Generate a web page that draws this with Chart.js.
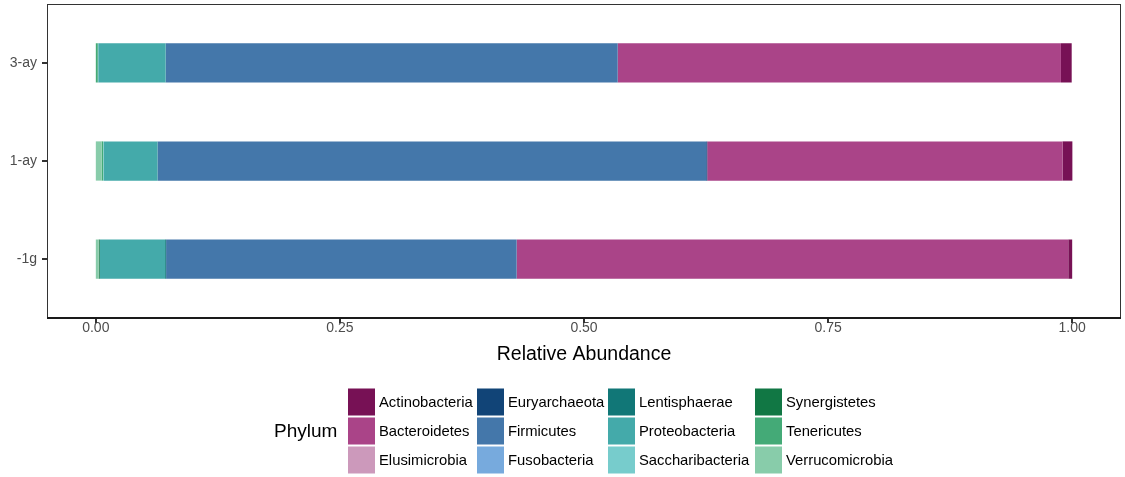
<!DOCTYPE html>
<html>
<head>
<meta charset="utf-8">
<title>Relative Abundance by Phylum</title>
<script src="https://cdn.jsdelivr.net/npm/chart.js@4/dist/chart.umd.min.js"></script>
<style>
  html, body { margin: 0; padding: 0; background: #ffffff; }
  #wrap { width: 1125px; height: 477px; }
</style>
</head>
<body>
<div id="wrap"><canvas id="chart" width="1125" height="477"></canvas></div>
<script>
// Sample groups, top to bottom
const categories = ['3-ay', '1-ay', '-1g'];

// Relative abundance of each phylum per sample group (order follows categories)
const actinobacteria   = [0.011, 0.010, 0.004];
const bacteroidetes    = [0.454, 0.364, 0.565];
const elusimicrobia    = [0.000, 0.000, 0.000];
const euryarchaeota    = [0.000, 0.001, 0.000];
const firmicutes       = [0.463, 0.562, 0.359];
const fusobacteria     = [0.000, 0.000, 0.000];
const lentisphaerae    = [0.000, 0.000, 0.001];
const proteobacteria   = [0.069, 0.055, 0.067];
const saccharibacteria = [0.0005, 0.0007, 0.000];
const synergistetes    = [0.000, 0.000, 0.001];
const tenericutes      = [0.002, 0.0015, 0.000];
const verrucomicrobia  = [0.000, 0.006, 0.003];

// Axis tick values
const xTicks = [0, 0.25, 0.5, 0.75, 1];

// Phyla in legend order, with their fill colours
const phyla = [
  ['Actinobacteria',   actinobacteria,   '#771155'],
  ['Bacteroidetes',    bacteroidetes,    '#AA4488'],
  ['Elusimicrobia',    elusimicrobia,    '#CC99BB'],
  ['Euryarchaeota',    euryarchaeota,    '#114477'],
  ['Firmicutes',       firmicutes,       '#4477AA'],
  ['Fusobacteria',     fusobacteria,     '#77AADD'],
  ['Lentisphaerae',    lentisphaerae,    '#117777'],
  ['Proteobacteria',   proteobacteria,   '#44AAAA'],
  ['Saccharibacteria', saccharibacteria, '#77CCCC'],
  ['Synergistetes',    synergistetes,    '#117744'],
  ['Tenericutes',      tenericutes,      '#44AA77'],
  ['Verrucomicrobia',  verrucomicrobia,  '#88CCAA']
];

// Stack from x = 0 outward: last legend entry sits at the base
const datasets = phyla.slice().reverse().map(([name, values, color]) => ({
  label: name,
  data: values,
  backgroundColor: color,
  borderWidth: 0,
  categoryPercentage: 1.0,
  barPercentage: 0.4
}));

const FONT = '"Liberation Sans", Arial, Helvetica, sans-serif';
const TICK_LEN = 5;

// White page background
const background = {
  id: 'background',
  beforeDraw(chart) {
    const ctx = chart.ctx;
    ctx.save();
    ctx.fillStyle = '#ffffff';
    ctx.fillRect(0, 0, chart.width, chart.height);
    ctx.restore();
  }
};

// Panel border, heavier bottom axis line and outward tick marks
const panelBorder = {
  id: 'panelBorder',
  afterDraw(chart) {
    const { ctx, chartArea: a } = chart;
    const xs = chart.scales.x;
    const ys = chart.scales.y;
    ctx.save();
    ctx.strokeStyle = '#333333';
    ctx.lineWidth = 1;
    ctx.strokeRect(a.left + 0.5, a.top + 0.5, a.right - a.left - 1, a.bottom - a.top);

    ctx.lineWidth = 2;
    ctx.strokeStyle = '#333333';
    ctx.beginPath();
    ys.ticks.forEach((t, i) => {
      const y = Math.round(ys.getPixelForTick(i));
      ctx.moveTo(a.left - TICK_LEN, y);
      ctx.lineTo(a.left, y);
    });
    xs.ticks.forEach((t, i) => {
      const x = Math.round(xs.getPixelForTick(i));
      ctx.moveTo(x, a.bottom);
      ctx.lineTo(x, a.bottom + TICK_LEN);
    });
    ctx.stroke();

    ctx.strokeStyle = '#1a1a1a';
    ctx.lineWidth = 2;
    ctx.beginPath();
    ctx.moveTo(a.left, a.bottom);
    ctx.lineTo(a.right, a.bottom);
    ctx.stroke();
    ctx.restore();
  }
};

// Four-column legend under the plot, filled column by column
const phylumLegend = {
  id: 'phylumLegend',
  afterDraw(chart) {
    const ctx = chart.ctx;
    const keyX = [348, 477, 608, 755];
    const rowY = [402, 431, 460];
    const key = 27;
    ctx.save();
    ctx.textBaseline = 'middle';
    ctx.textAlign = 'left';
    ctx.fillStyle = '#000000';
    ctx.font = '19px ' + FONT;
    ctx.fillText('Phylum', 274, 432);
    ctx.font = '14.8px ' + FONT;
    phyla.forEach(([name, , color], i) => {
      const col = Math.floor(i / 3);
      const row = i % 3;
      const x = keyX[col];
      const y = rowY[row];
      ctx.fillStyle = color;
      ctx.fillRect(x, y - key / 2, key, key);
      ctx.fillStyle = '#000000';
      ctx.fillText(name, x + 31, y + 1);
    });
    ctx.restore();
  }
};

new Chart(document.getElementById('chart'), {
  type: 'bar',
  data: { labels: categories, datasets },
  options: {
    indexAxis: 'y',
    responsive: false,
    animation: false,
    devicePixelRatio: 1,
    layout: { padding: { top: 4, right: 4, bottom: 109, left: 0 } },
    plugins: {
      legend: { display: false },
      tooltip: { enabled: false }
    },
    scales: {
      x: {
        type: 'linear',
        stacked: true,
        min: -0.05,
        max: 1.05,
        afterBuildTicks(scale) {
          scale.ticks = xTicks.map(v => ({ value: v }));
        },
        afterFit(scale) {
          scale.height = 50;
          scale.paddingLeft = 0;
          scale.paddingRight = 0;
        },
        border: { display: false },
        grid: { display: false, drawTicks: true, tickLength: 4 },
        ticks: {
          padding: -2,
          color: '#4d4d4d',
          font: { family: FONT, size: 14 },
          callback: v => Number(v).toFixed(2)
        },
        title: {
          display: true,
          text: 'Relative Abundance',
          color: '#000000',
          font: { family: FONT, size: 19.5 },
          padding: { top: 0, bottom: 2 }
        }
      },
      y: {
        type: 'category',
        stacked: true,
        afterBuildTicks(scale) {
          // discrete axis expanded by 0.6 of a category on both ends
          scale._startValue = -0.6;
          scale._valueRange = categories.length - 1 + 1.2;
        },
        afterFit(scale) {
          scale.width = 47;
          scale.paddingTop = 0;
          scale.paddingBottom = 0;
        },
        border: { display: false },
        grid: { display: false, offset: false, drawTicks: true, tickLength: 4 },
        ticks: {
          padding: 6,
          color: '#4d4d4d',
          font: { family: FONT, size: 14 }
        }
      }
    }
  },
  plugins: [background, panelBorder, phylumLegend]
});
</script>
</body>
</html>
